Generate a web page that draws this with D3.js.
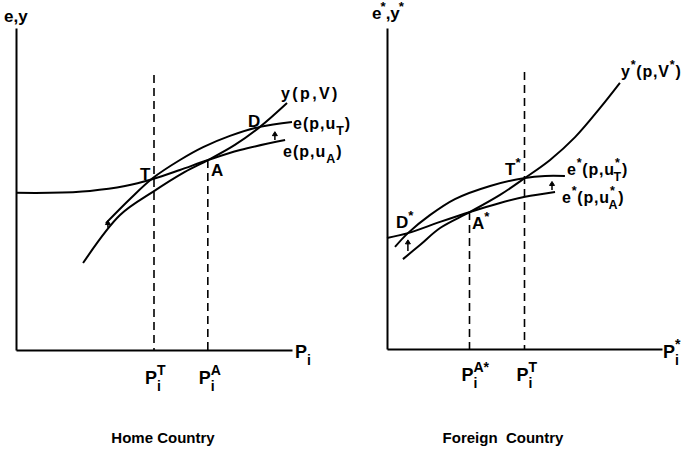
<!DOCTYPE html>
<html>
<head>
<meta charset="utf-8">
<script src="https://cdn.jsdelivr.net/npm/d3@7"></script>
<style>
  body { margin: 0; background: #fff; }
  svg text { font-family: "Liberation Sans", Arial, sans-serif; font-weight: bold; fill: #000; }
</style>
</head>
<body>
<svg id="chart" width="685" height="450"></svg>
<script>
// Home country curves, [price, value] in plot units (0-10 on both axes)
const homeEA = [[0, 4.88], [1.23, 4.88], [2.68, 4.94], [3.95, 5.09], [4.96, 5.31], [5.94, 5.59], [6.96, 5.90], [8.12, 6.21], [9.75, 6.52]];
const homeET = [[3.26, 3.94], [4.13, 4.69], [4.96, 5.34], [5.94, 5.90], [6.78, 6.30], [7.75, 6.65], [8.84, 6.93], [10.0, 7.08]];
const homeY = [[2.43, 2.70], [3.77, 4.19], [4.96, 4.91], [6.12, 5.53], [6.96, 5.90], [7.93, 6.37], [8.84, 6.93], [9.82, 7.67]];
const homePrices = [5.0, 6.95];          // P_i^T, P_i^A
const homeDashTop = [8.54, 5.90];        // where each dashed line stops
const homeArrows = [[3.33, 3.80, 4.02], [9.38, 6.52, 6.78]]; // [x, from, to]

// Foreign country curves
const foreignY = [[0.58, 2.80], [1.20, 3.24], [1.93, 3.77], [3.02, 4.27], [4.11, 4.80], [5.02, 5.33], [5.93, 5.89], [6.84, 6.60], [7.75, 7.51], [8.47, 8.29]];
const foreignET = [[0.29, 3.18], [0.76, 3.61], [1.56, 4.17], [2.47, 4.67], [3.75, 5.08], [5.02, 5.33], [5.75, 5.39], [6.47, 5.39]];
const foreignEA = [[0, 3.46], [0.76, 3.61], [1.93, 3.96], [3.02, 4.27], [4.11, 4.55], [5.02, 4.74], [6.11, 4.89]];
const foreignPrices = [3.0, 5.0];        // P_i^A*, P_i^T
const foreignDashTop = [4.27, 8.63];
const foreignArrows = [[0.76, 3.05, 3.40], [6.0, 4.95, 5.22]];

const svg = d3.select('#chart');

// text with sub / superscripts: parts = [[str, kind, dx]]
function rich(g, x, y, parts, size, spacing) {
  const t = g.append('text').attr('x', x).attr('y', y)
    .style('font-size', size + 'px')
    .style('letter-spacing', (spacing || 0) + 'px');
  let cur = 0;
  parts.forEach(p => {
    const kind = p[1] || 'n';
    const off = kind === 'sub' ? size * 0.38 : kind === 'sup' ? -size * 0.5 : 0;
    const ts = t.append('tspan').attr('dy', off - cur).text(p[0]);
    if (kind !== 'n') ts.style('font-size', (size * 0.78) + 'px');
    if (p[2]) ts.attr('dx', p[2]);
    cur = off;
  });
  return t;
}

function panel(cfg) {
  const x = d3.scaleLinear().domain([0, 10]).range(cfg.xr);
  const y = d3.scaleLinear().domain([0, 10]).range(cfg.yr);
  const g = svg.append('g');

  // axes: only the domain line, no ticks
  g.append('g').attr('transform', `translate(0,${y(0)})`)
    .call(d3.axisBottom(x).tickValues([]).tickSizeOuter(0));
  g.append('g').attr('transform', `translate(${x(0)},0)`)
    .call(d3.axisLeft(y).tickValues([]).tickSizeOuter(0));
  g.selectAll('.domain').attr('stroke', '#000').attr('stroke-width', 2);

  // dashed price lines
  cfg.prices.forEach((p, i) => {
    g.append('line')
      .attr('x1', x(p)).attr('x2', x(p))
      .attr('y1', y(cfg.dashTop[i])).attr('y2', y(0))
      .attr('stroke', '#000').attr('stroke-width', 1.6)
      .attr('stroke-dasharray', '8,5');
  });

  const line = d3.line().x(d => x(d[0])).y(d => y(d[1])).curve(d3.curveCatmullRom.alpha(0.5));
  cfg.curves.forEach(c => {
    g.append('path').attr('d', line(c))
      .attr('fill', 'none').attr('stroke', '#000').attr('stroke-width', 2);
  });

  // small upward arrows
  cfg.arrows.forEach(a => {
    const ax = x(a[0]), y0 = y(a[1]), y1 = y(a[2]);
    g.append('line').attr('x1', ax).attr('x2', ax).attr('y1', y0).attr('y2', y1 + 3)
      .attr('stroke', '#000').attr('stroke-width', 1.5);
    g.append('path').attr('d', `M${ax - 2.5},${y1 + 4}L${ax},${y1}L${ax + 2.5},${y1 + 4}Z`)
      .attr('fill', '#000').attr('stroke', '#000').attr('stroke-width', 1);
  });

  return { g, x, y };
}

// ---------- Home country ----------
const home = panel({
  xr: [16, 292], yr: [350, 28],
  prices: homePrices, dashTop: homeDashTop,
  curves: [homeEA, homeET, homeY], arrows: homeArrows
});
const hg = home.g;
rich(hg, 4, 22, [['e,y']], 17);
rich(hg, 295, 358, [['P'], ['i', 'sub']], 18);
rich(hg, home.x(homePrices[0]) - 9, 384, [['P'], ['i', 'sub'], ['T', 'sup', -4]], 18);
rich(hg, home.x(homePrices[1]) - 9, 384, [['P'], ['i', 'sub'], ['A', 'sup', -4]], 18);
rich(hg, 140, 180, [['T']], 17);
rich(hg, 211, 176, [['A']], 17);
rich(hg, 248, 127, [['D']], 17);
rich(hg, 281, 99, [['y(p,V)']], 16, 2.4);
rich(hg, 293, 129, [['e(p,u'], ['T', 'sub'], [')', 'n']], 16, 1);
rich(hg, 283, 157, [['e(p,u'], ['A', 'sub'], [')', 'n']], 16, 1);
hg.append('text').attr('x', 163).attr('y', 443).attr('text-anchor', 'middle')
  .style('font-size', '15px').text('Home Country');

// ---------- Foreign country ----------
const foreign = panel({
  xr: [387, 662], yr: [349, 28],
  prices: foreignPrices, dashTop: foreignDashTop,
  curves: [foreignEA, foreignET, foreignY], arrows: foreignArrows
});
const fg = foreign.g;
rich(fg, 372, 19, [['e'], ['*', 'sup', -1], [',y', 'n'], ['*', 'sup', -1]], 17);
rich(fg, 663, 358, [['P'], ['i', 'sub'], ['*', 'sup', -4]], 18);
rich(fg, foreign.x(foreignPrices[0]) - 8, 381, [['P'], ['i', 'sub'], ['A*', 'sup', -4]], 18);
rich(fg, foreign.x(foreignPrices[1]) - 8, 381, [['P'], ['i', 'sub'], ['T', 'sup', -4]], 18);
rich(fg, 396, 228, [['D'], ['*', 'sup']], 17);
rich(fg, 472, 229, [['A'], ['*', 'sup']], 17);
rich(fg, 505, 175, [['T'], ['*', 'sup']], 17);
rich(fg, 621, 77, [['y'], ['*', 'sup'], ['(p,V', 'n'], ['*', 'sup'], [')', 'n']], 16, 0.8);
rich(fg, 567, 175, [['e'], ['*', 'sup'], ['(p,u', 'n'], ['*', 'sup'], ['T', 'sub', -7], [')', 'n']], 16, 0.8);
rich(fg, 562, 203, [['e'], ['*', 'sup'], ['(p,u', 'n'], ['*', 'sup'], ['A', 'sub', -7], [')', 'n']], 16, 0.8);
fg.append('text').attr('x', 503).attr('y', 443).attr('text-anchor', 'middle')
  .style('font-size', '15px').style('white-space', 'pre').text('Foreign  Country');
</script>
</body>
</html>
